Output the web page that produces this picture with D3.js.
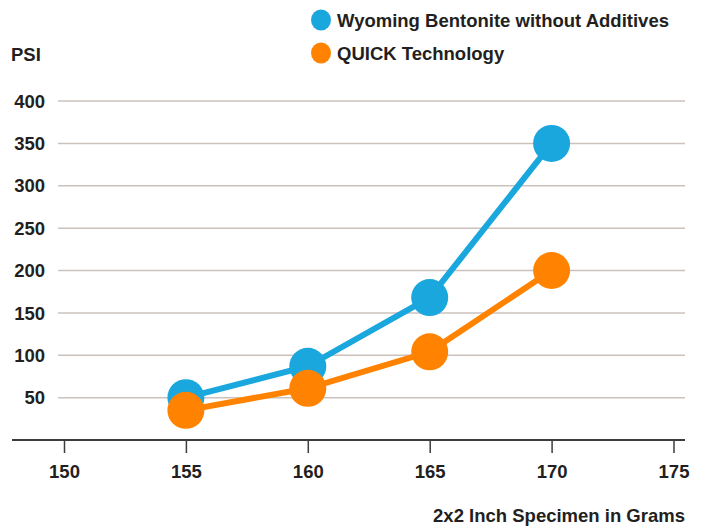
<!DOCTYPE html>
<html>
  <head>
    <meta charset="UTF-8">
    <title>PSI vs Specimen Grams</title>
    <style>
      body { margin: 0; background: #fff; }
      text { font-family: "Liberation Sans", Arial, sans-serif; font-weight: bold; fill: #231f20; }
    </style>
  </head>
  <body>

    <svg></svg>

    <script src="https://d3js.org/d3.v7.min.js"></script>
    <script>

// data
var grams = [155, 160, 165, 170];
var wyoming = [50, 87, 168, 350];
var quick = [35, 61, 104, 200];
var seriesNames = ["Wyoming Bentonite without Additives", "QUICK Technology"];
var seriesColors = ["#1aa7de", "#ff8300"];
var xTicks = [150, 155, 160, 165, 170, 175];
var yTicks = [50, 100, 150, 200, 250, 300, 350, 400];

var config = {
  "width": 704,
  "height": 527,
  "lineWidth": 6,
  "radius": 18.5,
  "fontSize": 18.5
}

var svg = d3.select("svg")
  .attr("width", config.width)
  .attr("height", config.height);

var x = d3.scaleLinear().domain([150, 175]).range([64, 673.5]);
var y = d3.scaleLinear().domain([0, 400]).range([440, 101]);

// gridlines
svg.append("g")
  .selectAll("line")
  .data(yTicks)
  .enter().append("line")
    .attr("x1", 58)
    .attr("x2", 685)
    .attr("y1", function(d) { return y(d); })
    .attr("y2", function(d) { return y(d); })
    .attr("stroke", "#cbc2bd")
    .attr("stroke-width", 1.5);

// y labels
svg.append("g")
  .selectAll("text")
  .data(yTicks)
  .enter().append("text")
    .attr("x", 45)
    .attr("y", function(d) { return y(d); })
    .attr("dy", "0.36em")
    .attr("text-anchor", "end")
    .attr("font-size", config.fontSize)
    .text(function(d) { return d; });

svg.append("text")
  .attr("x", 11)
  .attr("y", 54)
  .attr("dy", "0.36em")
  .attr("font-size", config.fontSize)
  .text("PSI");

// x axis
var xAxis = svg.append("g")
  .attr("transform", "translate(0," + y(0) + ")")
  .call(d3.axisBottom(x).tickValues(xTicks).tickSize(13).tickFormat(d3.format("d")));

xAxis.attr("font-family", null).attr("font-size", null);
xAxis.select(".domain").remove();
xAxis.selectAll(".tick line").attr("stroke", "#3c3c3c").attr("stroke-width", 1.5);
xAxis.selectAll(".tick text")
  .attr("y", 31)
  .attr("dy", "0.36em")
  .attr("fill", null)
  .attr("font-size", config.fontSize);

svg.append("line")
  .attr("x1", 12)
  .attr("x2", 685)
  .attr("y1", y(0))
  .attr("y2", y(0))
  .attr("stroke", "#3c3c3c")
  .attr("stroke-width", 2);

svg.append("text")
  .attr("x", 685)
  .attr("y", 515)
  .attr("dy", "0.36em")
  .attr("text-anchor", "end")
  .attr("font-size", config.fontSize)
  .text("2x2 Inch Specimen in Grams");

// lines + markers
var series = [wyoming, quick];
var line = d3.line()
  .x(function(d, i) { return x(grams[i]); })
  .y(function(d) { return y(d); });

series.forEach(function(vals, s) {
  var g = svg.append("g");
  g.append("path")
    .datum(vals)
    .attr("d", line)
    .attr("fill", "none")
    .attr("stroke", seriesColors[s])
    .attr("stroke-width", config.lineWidth);
  g.selectAll("circle")
    .data(vals)
    .enter().append("circle")
      .attr("cx", function(d, i) { return x(grams[i]); })
      .attr("cy", function(d) { return y(d); })
      .attr("r", config.radius)
      .attr("fill", seriesColors[s]);
});

// legend
var legend = svg.append("g")
  .selectAll("g")
  .data(seriesNames)
  .enter().append("g")
    .attr("transform", function(d, i) { return "translate(321," + (20 + i * 33) + ")"; });

legend.append("ellipse")
  .attr("rx", 10)
  .attr("ry", 10.5)
  .attr("fill", function(d, i) { return seriesColors[i]; });

legend.append("text")
  .attr("x", 16)
  .attr("dy", "0.36em")
  .attr("font-size", config.fontSize)
  .text(function(d) { return d; });

    </script>
  </body>
</html>
